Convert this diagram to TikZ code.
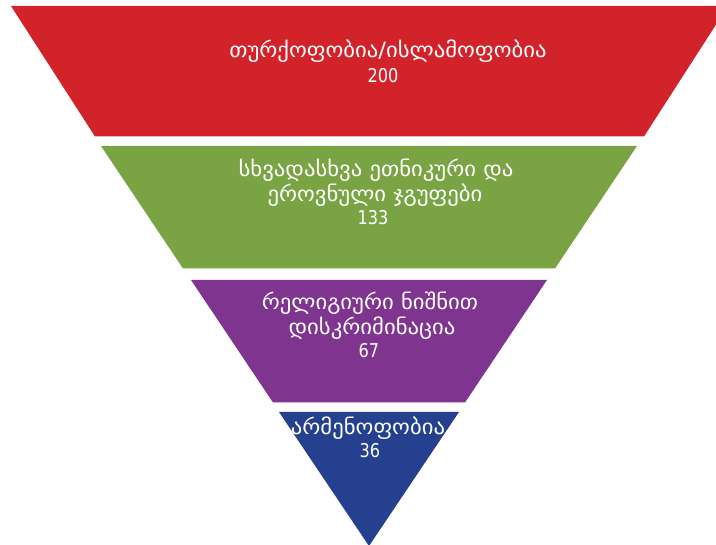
\documentclass[tikz,border=0pt]{standalone}
\usepackage{fontspec}
\setmainfont{DejaVu Sans}[FakeStretch=0.85]
\newfontfamily\geofont{DejaVu Sans}[FakeStretch=1.08]
\definecolor{fred}{RGB}{210,35,43}
\definecolor{fgreen}{RGB}{122,164,68}
\definecolor{fpurple}{RGB}{127,53,143}
\definecolor{fblue}{RGB}{36,64,142}
\tikzset{
  level/.style={fill=#1, draw=none},
  num/.style={text=white, inner sep=0pt, anchor=base,
    font=\fontsize{19}{25}\selectfont},
  lbl/.style={text=white, inner sep=0pt, anchor=base,
    font=\geofont\fontsize{21}{25}\selectfont}
}
\begin{document}
\begin{tikzpicture}[x=1pt,y=-1pt]
\useasboundingbox (0,0) rectangle (716,545);
\fill[white] (0,0) rectangle (716,545);
\begin{scope}
\clip (0,0) rectangle (716,545);
\fill[level=fred] (11,6) -- (728,6) -- (644,136.5) -- (95,136.5) -- cycle;
\fill[level=fgreen] (101,146) -- (637,146) -- (555,268.5) -- (183,268.5) -- cycle;
\fill[level=fpurple] (191,280) -- (547,280) -- (465,402.5) -- (273,402.5) -- cycle;
\fill[level=fblue] (279,412) -- (459,412) -- (369,546) -- cycle;
\end{scope}
\node[lbl] (t1a) at (388,58) {თურქოფობია/ისლამოფობია};
\node[num] (t1b) at (383,83) {200};
\node[lbl] (t2a) at (376,177) {სხვადასხვა ეთნიკური და};
\node[lbl] (t2b) at (375,202) {ეროვნული ჯგუფები};
\node[num] (t2c) at (373,225) {133};
\node[lbl] (t3a) at (370,310) {რელიგიური ნიშნით};
\node[lbl] (t3b) at (372,335) {დისკრიმინაცია};
\node[num] (t3c) at (369,358) {67};
\node[lbl] (t4a) at (368,435) {არმენოფობია};
\node[num] (t4b) at (370,458) {36};
\end{tikzpicture}
\end{document}
